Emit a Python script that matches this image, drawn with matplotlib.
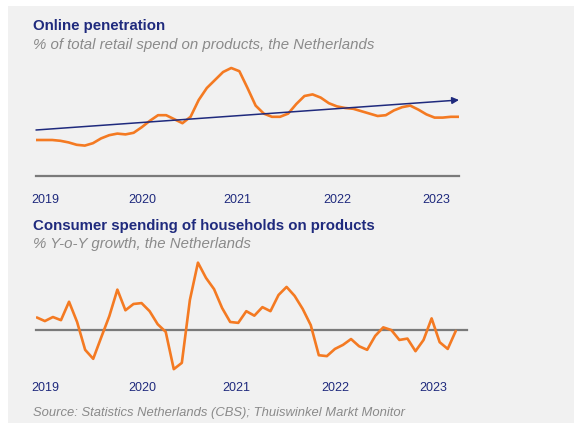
import numpy as np
import matplotlib.pyplot as plt
from matplotlib.patches import Rectangle

plt.rcParams['font.family'] = ['Liberation Sans', 'DejaVu Sans']

# Month index: 0 = Dec 2018 ... 52 = Apr 2023
months = np.arange(53)
year_labels = ['2019', '2020', '2021', '2022', '2023']
year_ticks = [1.1, 13.1, 24.8, 37.1, 49.2]

# Online penetration, % of total retail spend on products
online_share = [11.0, 11.0, 11.0, 10.9, 10.7, 10.4, 10.3, 10.6, 11.2, 11.6,
                11.8, 11.7, 11.9, 12.6, 13.4, 14.1, 14.1, 13.6, 13.1, 13.9,
                16.0, 17.5, 18.5, 19.5, 20.0, 19.6, 17.5, 15.3, 14.3, 13.9,
                13.9, 14.3, 15.5, 16.5, 16.7, 16.3, 15.6, 15.2, 15.0, 14.9,
                14.6, 14.3, 14.0, 14.1, 14.7, 15.1, 15.3, 14.8, 14.2, 13.8,
                13.8, 13.9, 13.9]
trend_start = 12.25
trend_end = 16.0

# Consumer spending on products, % Y-o-Y growth
spending_yoy = [2.8, 2.0, 2.9, 2.2, 6.3, 1.8, -4.4, -6.4, -1.6, 3.1,
                9.0, 4.4, 5.8, 6.0, 4.2, 1.3, -0.4, -8.7, -7.3, 6.7,
                15.0, 11.6, 9.1, 4.9, 1.8, 1.6, 4.2, 3.2, 5.1, 4.2,
                7.8, 9.6, 7.6, 4.7, 1.1, -5.6, -5.8, -4.2, -3.3, -2.0,
                -3.6, -4.4, -1.3, 0.6, 0.0, -2.2, -1.9, -4.7, -2.2, 2.6,
                -2.7, -4.2, -0.2]

W, H = 574, 423
orange = '#f47a22'
navy = '#1f2a7d'
grey_txt = '#8a8a8a'
line_grey = '#7a7a7a'
bg = '#f1f1f1'

fig = plt.figure(figsize=(W / 100, H / 100), dpi=100)
fig.patch.set_facecolor('white')
fig.patches.append(Rectangle((8 / W, 0), 1, 1 - 6 / H, transform=fig.transFigure,
                             facecolor=bg, edgecolor='none', zorder=-5))


def px_axes(x0, y0, x1, y1):
    return fig.add_axes([x0 / W, 1 - y1 / H, (x1 - x0) / W, (y1 - y0) / H])


# top panel
ax1 = px_axes(36, 58, 459, 176)
ax1.plot(months, online_share, color=orange, lw=1.9, solid_joinstyle='round',
         solid_capstyle='round')
ax1.annotate('', xy=(52, trend_end), xytext=(0, trend_start),
             arrowprops=dict(arrowstyle='-|>', color=navy, lw=1.1,
                             mutation_scale=10, shrinkA=0, shrinkB=0))
ax1.set_xlim(0, 52)
ax1.set_ylim(6.5, 21.25)

# bottom panel
ax2 = px_axes(36, 255, 459, 375)
ax2.plot(months, spending_yoy, color=orange, lw=1.9, solid_joinstyle='round',
         solid_capstyle='round')
ax2.axhline(0, xmin=0, xmax=(467 - 36) / 423, color=line_grey, lw=1.6,
            clip_on=False, zorder=1)
ax2.set_xlim(-0.1, 52.4)
ax2.set_ylim(-10, 16.7)

for ax in (ax1, ax2):
    ax.set_zorder(2)
    ax.set_facecolor('none')
    for s in ['top', 'right', 'left']:
        ax.spines[s].set_visible(False)
    ax.set_yticks([])
    ax.tick_params(axis='x', length=0, labelsize=9, labelcolor=navy)
    ax.set_xticks(year_ticks)
    ax.set_xticklabels(year_labels)

ax1.spines['bottom'].set_color(line_grey)
ax1.spines['bottom'].set_linewidth(1.6)
ax1.tick_params(axis='x', pad=13)
ax2.spines['bottom'].set_visible(False)
ax2.tick_params(axis='x', pad=5)

fig.text(33 / W, 1 - 26 / H, 'Online penetration', fontsize=10.8, fontweight='bold',
         color=navy, va='center')
fig.text(33 / W, 1 - 45 / H, '% of total retail spend on products, the Netherlands',
         fontsize=10.8, style='italic', color=grey_txt, va='center')
fig.text(33 / W, 1 - 226 / H, 'Consumer spending of households on products',
         fontsize=10.8, fontweight='bold', color=navy, va='center')
fig.text(33 / W, 1 - 244 / H, '% Y-o-Y growth, the Netherlands', fontsize=10.8,
         style='italic', color=grey_txt, va='center')
fig.text(33 / W, 1 - 413 / H,
         'Source: Statistics Netherlands (CBS); Thuiswinkel Markt Monitor',
         fontsize=9.4, style='italic', color=grey_txt, va='center')

fig.savefig('out.png', dpi=100)
